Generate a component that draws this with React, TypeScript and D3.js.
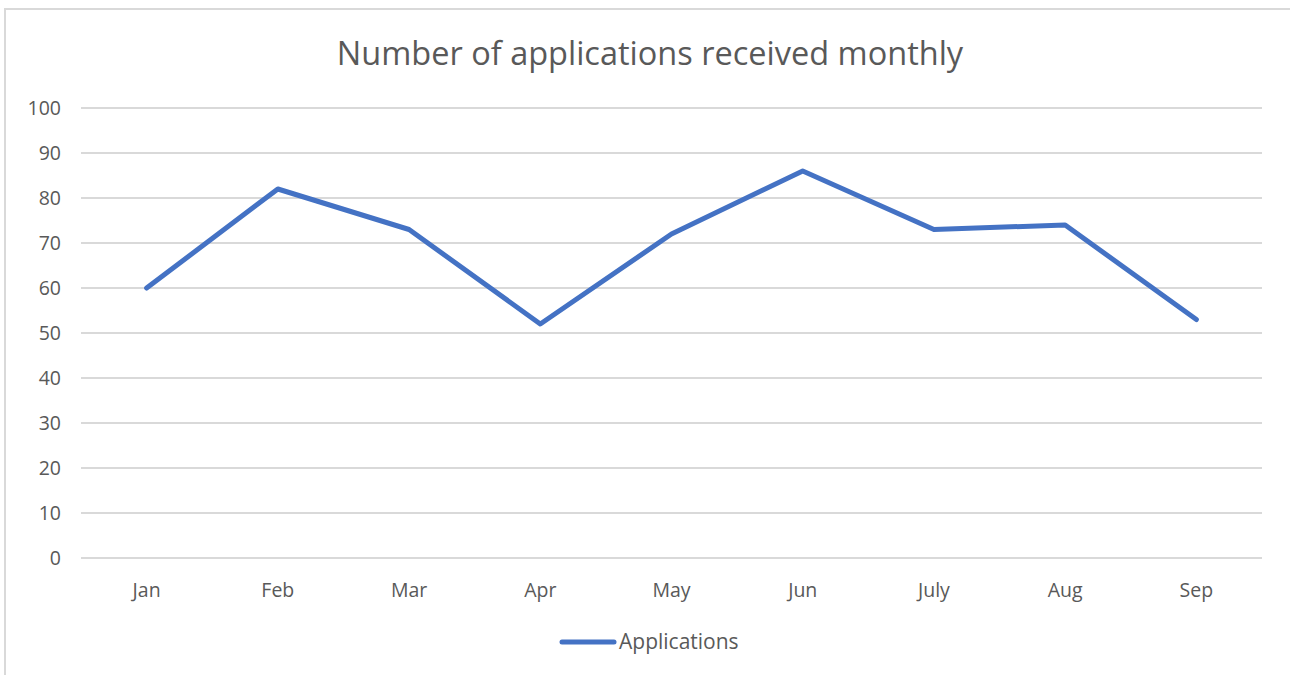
import React from 'react';
import * as d3 from 'd3';

const months = ['Jan', 'Feb', 'Mar', 'Apr', 'May', 'Jun', 'July', 'Aug', 'Sep'];
const applications = [60, 82, 73, 52, 72, 86, 73, 74, 53];
const yTicks = [0, 10, 20, 30, 40, 50, 60, 70, 80, 90, 100];

const W = 1290;
const H = 675;
const margin = { left: 81, right: 28, top: 108, bottom: 117 };
const font = '"Open Sans", "Noto Sans", sans-serif';
const textColor = '#595959';
const lineColor = '#4472C4';

export default function App() {
  const x = d3.scalePoint<string>()
    .domain(months)
    .range([margin.left, W - margin.right])
    .padding(0.5);

  const y = d3.scaleLinear()
    .domain([0, 100])
    .range([H - margin.bottom, margin.top]);

  const line = d3.line<number>()
    .x((_, i) => x(months[i]) as number)
    .y(d => y(d));

  return (
    <svg width={W} height={H} style={{ position: 'absolute', left: 0, top: 0, background: '#fff' }}>
      <rect x={5} y={9} width={W} height={H} fill="#fff" stroke="#d9d9d9" strokeWidth={2} />
      <text x={650} y={65} textAnchor="middle" fontFamily={font} fontSize={32.5} fill={textColor}>
        Number of applications received monthly
      </text>
      {yTicks.map(t => (
        <g key={t}>
          <line x1={margin.left} x2={W - margin.right} y1={y(t)} y2={y(t)} stroke="#d9d9d9" strokeWidth={2} />
          <text x={61} y={y(t)} dy="0.35em" textAnchor="end" fontFamily={font} fontSize={19.5} fill={textColor}>{t}</text>
        </g>
      ))}
      {months.map(m => (
        <text key={m} x={x(m)} y={597} textAnchor="middle" fontFamily={font} fontSize={19.5} fill={textColor}>{m}</text>
      ))}
      <path d={line(applications) ?? ''} fill="none" stroke={lineColor} strokeWidth={5} strokeLinecap="round" strokeLinejoin="round" />
      <line x1={562} x2={614} y1={642} y2={642} stroke={lineColor} strokeWidth={5} strokeLinecap="round" />
      <text x={619} y={642} dy="0.35em" fontFamily={font} fontSize={21} fill={textColor}>Applications</text>
    </svg>
  );
}
